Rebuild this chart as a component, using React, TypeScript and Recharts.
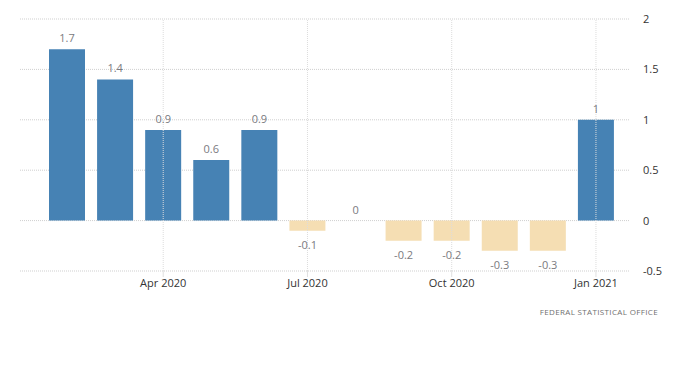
import React from 'react';
import { ComposedChart, Bar, Line, XAxis, YAxis, CartesianGrid, Cell, LabelList, ReferenceLine } from 'recharts';

const months = ['Feb 2020', 'Mar 2020', 'Apr 2020', 'May 2020', 'Jun 2020', 'Jul 2020', 'Aug 2020', 'Sep 2020', 'Oct 2020', 'Nov 2020', 'Dec 2020', 'Jan 2021'];
const values = [1.7, 1.4, 0.9, 0.6, 0.9, -0.1, 0, -0.2, -0.2, -0.3, -0.3, 1];
const xTicks = ['Apr 2020', 'Jul 2020', 'Oct 2020', 'Jan 2021'];
const yTicks = [-0.5, 0, 0.5, 1, 1.5, 2];
const sourceText = 'FEDERAL STATISTICAL OFFICE';

const data = months.map((m, i) => ({ month: m, value: values[i] }));

const FONT = '"Open Sans", sans-serif';

const renderLabel = (props: any) => {
  const { x, y, value } = props;
  if (value >= 0) {
    return (
      <text x={x} y={y - 7} textAnchor="middle" fill="#7a7a80" fontSize={11} fontFamily={FONT}>
        {value}
      </text>
    );
  }
  return (
    <text x={x} y={y + 18} textAnchor="middle" fill="#7a7a80" fontSize={11} fontFamily={FONT}>
      {value}
    </text>
  );
};

export default function App() {
  return (
    <div style={{ position: 'absolute', left: 0, top: 0, width: 700, height: 372, background: '#fff' }}>
      <ComposedChart width={700} height={372} data={data} margin={{ top: 19, right: 0, left: 20, bottom: 71 }}>
        <CartesianGrid stroke="#cfcfcf" strokeDasharray="1 1" vertical={false} />
        {xTicks.map((t) => (
          <ReferenceLine key={t} x={t} stroke="#dcdcdc" strokeDasharray="1 1" />
        ))}
        <XAxis
          dataKey="month"
          ticks={xTicks}
          interval={0}
          padding={{ left: 23, right: 10 }}
          axisLine={false}
          tickLine={{ stroke: '#e0e0e0' }}
          tickSize={6}
          tickMargin={2}
          height={30}
          tick={{ fill: '#333', fontSize: 11, fontFamily: FONT }}
        />
        <YAxis
          orientation="right"
          type="number"
          domain={[-0.5, 2]}
          ticks={yTicks}
          axisLine={false}
          tickLine={false}
          tickSize={6}
          tickMargin={7}
          width={70}
          tick={{ fill: '#333', fontSize: 11, fontFamily: FONT }}
        />
        <Bar dataKey="value" barSize={36} isAnimationActive={false}>
          {data.map((d, i) => (
            <Cell key={i} fill={d.value >= 0 ? '#4682B4' : '#F5DEB3'} />
          ))}
        </Bar>
        <Line dataKey="value" stroke="none" dot={false} activeDot={false} isAnimationActive={false}>
          <LabelList dataKey="value" content={renderLabel} />
        </Line>
      </ComposedChart>
      <div
        style={{
          position: 'absolute',
          right: 42,
          top: 306,
          fontFamily: FONT,
          fontSize: 8,
          color: '#707070',
          letterSpacing: 0.35,
          whiteSpace: 'nowrap',
        }}
      >
        {sourceText}
      </div>
    </div>
  );
}
